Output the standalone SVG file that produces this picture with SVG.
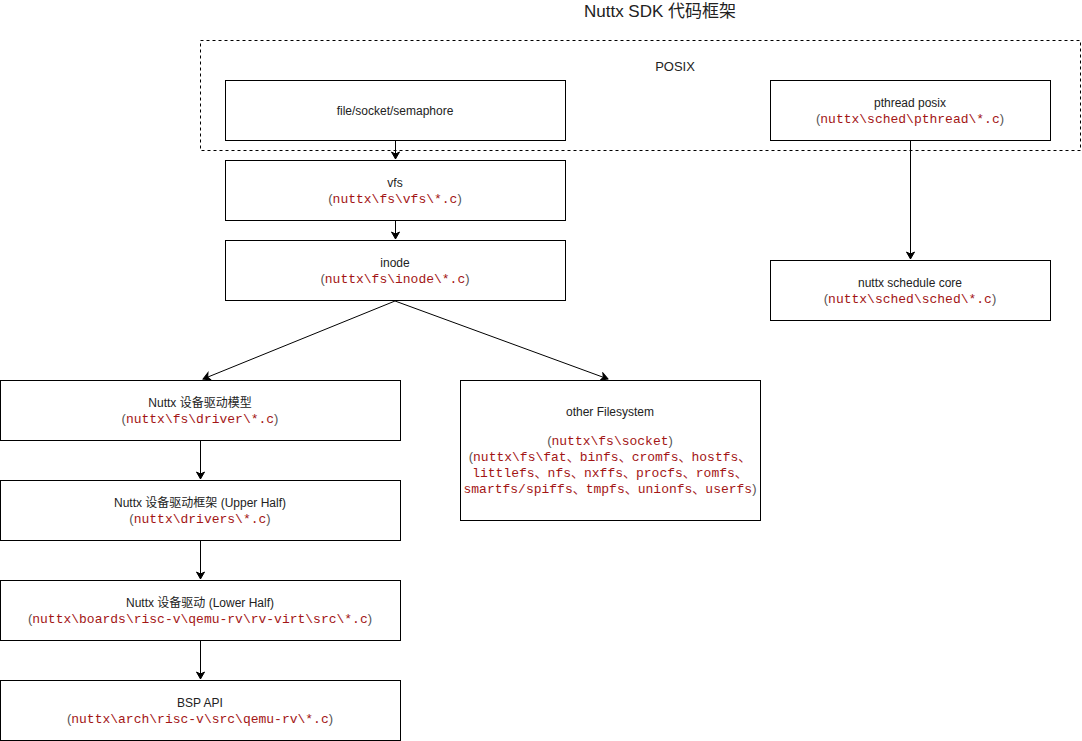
<svg xmlns="http://www.w3.org/2000/svg" width="1082" height="741" viewBox="0 0 1082 741">
<defs>
<marker id="arr" markerWidth="10" markerHeight="10" refX="8" refY="5" orient="auto" markerUnits="userSpaceOnUse">
<path d="M1,1 L8,5 L1,9 L3,5 Z" fill="#000" stroke="#000" stroke-width="1"/>
</marker>
</defs>
<style>
.box{fill:#fff;stroke:#000;stroke-width:1}
.t{font-family:"Liberation Sans",Arial,"Noto Sans CJK SC",sans-serif;font-size:12px;fill:#222;text-anchor:middle}
.m{font-family:"Liberation Mono","DejaVu Sans Mono","Noto Sans CJK SC",monospace;font-size:13px;fill:#a31515}
.p{font-family:"Liberation Sans",Arial,sans-serif;fill:#555}
.c{fill:none;stroke:#000;stroke-width:1;marker-end:url(#arr)}
</style>
<rect width="1082" height="741" fill="#fff"/>
<text x="660" y="17" class="t" style="font-size:17px">Nuttx SDK 代码框架</text>
<g id="posix">
<rect x="200.5" y="40.5" width="880" height="110" fill="none" stroke="#000" stroke-dasharray="3,3"/>
<text x="675" y="71" class="t" style="font-size:13px">POSIX</text>
</g>
<g id="file">
<rect class="box" x="225.5" y="80.5" width="340" height="60"/>
<text x="395" y="115" class="t">file/socket/semaphore</text>
</g>
<g id="pthread">
<rect class="box" x="770.5" y="80.5" width="280" height="60"/>
<text x="910" y="107" class="t">pthread posix</text>
<text x="910" y="123" class="t m"><tspan class="p">(</tspan>nuttx\sched\pthread\*.c<tspan class="p">)</tspan></text>
</g>
<g id="vfs">
<rect class="box" x="225.5" y="160.5" width="340" height="60"/>
<text x="395" y="187" class="t">vfs</text>
<text x="395" y="203" class="t m"><tspan class="p">(</tspan>nuttx\fs\vfs\*.c<tspan class="p">)</tspan></text>
</g>
<g id="inode">
<rect class="box" x="225.5" y="240.5" width="340" height="60"/>
<text x="395" y="267" class="t">inode</text>
<text x="395" y="283" class="t m"><tspan class="p">(</tspan>nuttx\fs\inode\*.c<tspan class="p">)</tspan></text>
</g>
<g id="sched">
<rect class="box" x="770.5" y="260.5" width="280" height="60"/>
<text x="910" y="287" class="t">nuttx schedule core</text>
<text x="910" y="303" class="t m"><tspan class="p">(</tspan>nuttx\sched\sched\*.c<tspan class="p">)</tspan></text>
</g>
<g id="drvmodel">
<rect class="box" x="0.5" y="380.5" width="400" height="60"/>
<text x="200" y="407" class="t">Nuttx 设备驱动模型</text>
<text x="200" y="423" class="t m"><tspan class="p">(</tspan>nuttx\fs\driver\*.c<tspan class="p">)</tspan></text>
</g>
<g id="otherfs">
<rect class="box" x="460.5" y="380.5" width="300" height="140"/>
<text x="610" y="416" class="t">other Filesystem</text>
<text x="610" y="445" class="t m"><tspan class="p">(</tspan>nuttx\fs\socket<tspan class="p">)</tspan></text>
<text x="610" y="461" class="t m"><tspan class="p">(</tspan>nuttx\fs\fat、binfs、cromfs、hostfs、</text>
<text x="610" y="477" class="t m">littlefs、nfs、nxffs、procfs、romfs、</text>
<text x="610" y="493" class="t m">smartfs/spiffs、tmpfs、unionfs、userfs<tspan class="p">)</tspan></text>
</g>
<g id="upper">
<rect class="box" x="0.5" y="480.5" width="400" height="60"/>
<text x="200" y="507" class="t">Nuttx 设备驱动框架 (Upper Half)</text>
<text x="200" y="523" class="t m"><tspan class="p">(</tspan>nuttx\drivers\*.c<tspan class="p">)</tspan></text>
</g>
<g id="lower">
<rect class="box" x="0.5" y="580.5" width="400" height="60"/>
<text x="200" y="607" class="t">Nuttx 设备驱动 (Lower Half)</text>
<text x="200" y="623" class="t m"><tspan class="p">(</tspan>nuttx\boards\risc-v\qemu-rv\rv-virt\src\*.c<tspan class="p">)</tspan></text>
</g>
<g id="bsp">
<rect class="box" x="0.5" y="680.5" width="400" height="60"/>
<text x="200" y="707" class="t">BSP API</text>
<text x="200" y="723" class="t m"><tspan class="p">(</tspan>nuttx\arch\risc-v\src\qemu-rv\*.c<tspan class="p">)</tspan></text>
</g>
<g id="connectors">
<line class="c" x1="395.5" y1="141" x2="395.5" y2="159"/>
<line class="c" x1="395.5" y1="221" x2="395.5" y2="239"/>
<line class="c" x1="395" y1="301" x2="203" y2="379"/>
<line class="c" x1="395" y1="301" x2="608" y2="379"/>
<line class="c" x1="910.5" y1="141" x2="910.5" y2="259"/>
<line class="c" x1="200.5" y1="441" x2="200.5" y2="479"/>
<line class="c" x1="200.5" y1="541" x2="200.5" y2="579"/>
<line class="c" x1="200.5" y1="641" x2="200.5" y2="679"/>
</g>
</svg>
